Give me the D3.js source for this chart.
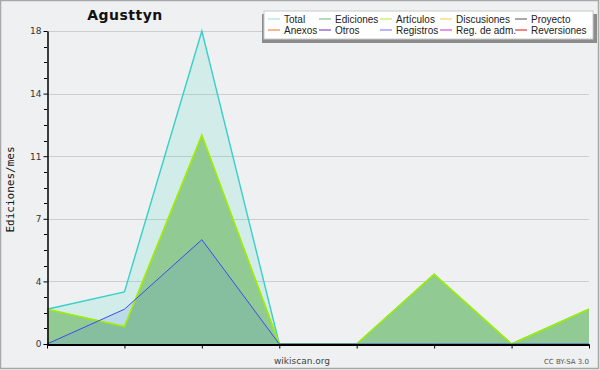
<!DOCTYPE html>
<html>
<head>
<meta charset="utf-8">
<script src="https://d3js.org/d3.v7.min.js"></script>
<style>
  body { margin: 0; background: #fff; }
  svg { display: block; font-family: "DejaVu Sans", sans-serif; }
</style>
</head>
<body>
<svg id="chart" width="600" height="370"></svg>
<script>
// data (8 months)
var months = [0, 1, 2, 3, 4, 5, 6, 7];
var total = [2, 3, 18, 0, 0, 4, 0, 2];
var ediciones = [2, 1, 12, 0, 0, 4, 0, 2];
var articulos = [2, 1, 12, 0, 0, 4, 0, 2];
var registros = [0, 2, 6, 0, 0, 0, 0, 0];

var yTickValues = [0, 3.6, 7.2, 10.8, 14.4, 18];
var yTickLabels = ["0", "4", "7", "11", "14", "18"];

var legendNames = ["Total", "Ediciones", "Artículos", "Discusiones", "Proyecto",
                   "Anexos", "Otros", "Registros", "Reg. de adm.", "Reversiones"];
var legendColors = ["#a8e4e0", "#80c884", "#c8ec50", "#f8d070", "#707070",
                    "#f08848", "#8848c8", "#8888f8", "#d050e0", "#e03838"];

var svg = d3.select("#chart");
var W = 600, H = 370;
var m = {left: 47, right: 11, top: 31, bottom: 26};

// background + frame
svg.append("rect").attr("x", 0).attr("y", 0).attr("width", W).attr("height", H)
  .attr("fill", "#eff0f1");
svg.append("rect").attr("x", 0.5).attr("y", 0.5).attr("width", W - 2).attr("height", H - 2)
  .attr("fill", "none").attr("stroke", "#a8a8a8").attr("stroke-width", 1.5);

var x = d3.scaleLinear().domain([0, 7]).range([m.left, W - m.right]);
var y = d3.scaleLinear().domain([0, 18]).range([H - m.bottom, m.top]);

// grid lines
svg.append("g").selectAll("line").data(yTickValues.slice(1)).enter().append("line")
  .attr("x1", m.left).attr("x2", W - m.right)
  .attr("y1", d => Math.round(y(d)) + 0.5).attr("y2", d => Math.round(y(d)) + 0.5)
  .attr("stroke", "#cdcdcd");

var area = function(vals) {
  return d3.area().x((d, i) => x(months[i])).y0(y(0)).y1(d => y(d))(vals);
};
var line = function(vals) {
  return d3.line().x((d, i) => x(months[i])).y(d => y(d))(vals);
};

// areas
svg.append("path").attr("d", area(total)).attr("fill", "rgba(64,216,200,0.16)");
svg.append("path").attr("d", area(ediciones)).attr("fill", "#92ca94");
svg.append("path").attr("d", area(registros)).attr("fill", "rgba(70,130,230,0.15)");

// lines
svg.append("path").attr("d", line(total)).attr("fill", "none")
  .attr("stroke", "#38d0c8").attr("stroke-width", 1.4);
svg.append("path").attr("d", line(ediciones)).attr("fill", "none")
  .attr("stroke", "#80c884").attr("stroke-width", 1);
svg.append("path").attr("d", line(articulos)).attr("fill", "none")
  .attr("stroke", "#a0ee00").attr("stroke-width", 1.6);
svg.append("path").attr("d", line(registros)).attr("fill", "none")
  .attr("stroke", "#3c4cf0").attr("stroke-width", 1);

// y axis
var yAxis = svg.append("g").attr("transform", "translate(" + (m.left + 0.5) + ",0)")
  .call(d3.axisLeft(y).tickValues(yTickValues).tickSize(4).tickSizeOuter(0)
    .tickFormat((d, i) => yTickLabels[i]));
yAxis.select(".domain").attr("stroke", "#000").attr("stroke-width", 1.5);
yAxis.selectAll(".tick line").attr("stroke", "#000");
yAxis.selectAll(".tick text").attr("font-size", 9).attr("fill", "#333")
  .attr("font-family", "DejaVu Sans").attr("dx", 1);
// minor ticks
var minor = d3.range(0, 18, 0.9).filter(v => yTickValues.indexOf(Math.round(v * 10) / 10) < 0);
svg.append("g").selectAll("line").data(minor).enter().append("line")
  .attr("x1", m.left - 3).attr("x2", m.left)
  .attr("y1", d => Math.round(y(d)) + 0.5).attr("y2", d => Math.round(y(d)) + 0.5)
  .attr("stroke", "#000");

// x axis
var xAxis = svg.append("g").attr("transform", "translate(0," + (y(0) + 0.5) + ")")
  .call(d3.axisBottom(x).tickValues(months).tickSize(4).tickSizeOuter(0).tickFormat(""));
xAxis.select(".domain").attr("stroke", "#000").attr("stroke-width", 2);
xAxis.selectAll(".tick line").attr("stroke", "#000");

// title
svg.append("text").attr("x", 125).attr("y", 20).attr("text-anchor", "middle")
  .attr("font-weight", "bold").attr("font-size", 14).attr("letter-spacing", 0.5)
  .attr("fill", "#111").text("Agusttyn");

// y label
svg.append("text").attr("transform", "translate(14," + (y(9) + 2) + ") rotate(-90)")
  .attr("text-anchor", "middle").attr("font-family", "DejaVu Sans Mono")
  .attr("font-size", 11).attr("fill", "#111").text("Ediciones/mes");

// footer
svg.append("text").attr("x", 302).attr("y", 364).attr("text-anchor", "middle")
  .attr("font-size", 9).attr("fill", "#444").text("wikiscan.org");
svg.append("text").attr("x", 589).attr("y", 364).attr("text-anchor", "end")
  .attr("font-size", 7).attr("fill", "#555").text("CC BY-SA 3.0");

// legend
var lg = svg.append("g");
lg.append("rect").attr("x", 262).attr("y", 14).attr("width", 335).attr("height", 29).attr("fill", "#8c8c8c");
lg.append("rect").attr("x", 264).attr("y", 11).attr("width", 329).attr("height", 28)
  .attr("fill", "#fff").attr("stroke", "#c8c8c8");
var colX = [268, 319, 380, 440, 515];
var items = lg.selectAll("g.item").data(legendNames).enter().append("g")
  .attr("transform", (d, i) => "translate(" + colX[i % 5] + "," + (i < 5 ? 18.5 : 29.5) + ")");
items.append("line").attr("x1", 0).attr("x2", 12).attr("y1", 0.5).attr("y2", 0.5)
  .attr("stroke", (d, i) => legendColors[i]).attr("stroke-width", 1.2);
items.append("text").attr("x", 16).attr("y", 4).attr("font-family", "Liberation Sans")
  .attr("font-size", 10).attr("fill", "#222")
  .text(d => d);
</script>
</body>
</html>
